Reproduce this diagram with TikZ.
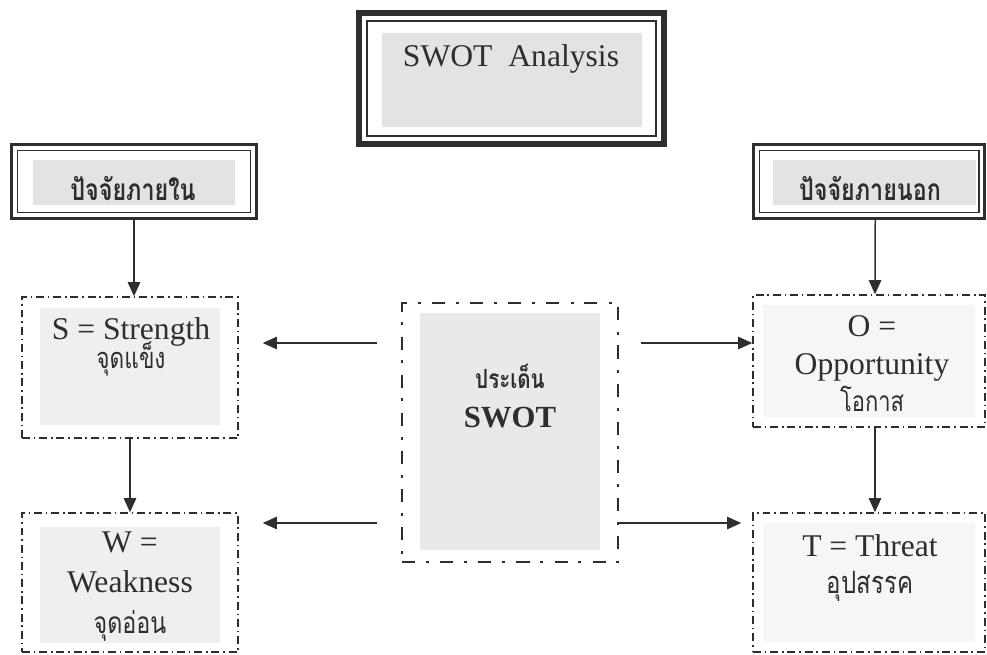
\documentclass[tikz,border=0pt]{standalone}
\usepackage{fontspec}
\setmainfont{Liberation Serif}
\newfontfamily\thaifont[Script=Thai,FakeStretch=0.78]{Loma}
\usetikzlibrary{arrows.meta}
\definecolor{ink}{HTML}{2E2E2E}
\definecolor{panelgray}{HTML}{E3E3E3}
\definecolor{centergray}{HTML}{E9E9E9}
\definecolor{softgray}{HTML}{EFEFEF}
\definecolor{palegray}{HTML}{F6F6F6}
\newcommand\thaitext[1]{\thaifont\fontsize{#1}{16}\selectfont}
\newcommand\tightlines{\lineskiplimit=-40pt\relax}

\begin{document}
\begin{tikzpicture}[x=0.02cm,y=-0.02cm,
  every node/.style={inner sep=0pt,text=ink},
  txt/.style={align=center,execute at begin node=\tightlines},
  arr/.style={draw=ink,line width=0.85pt,-{Triangle[length=8pt,width=7pt]}},
  dashdot/.style={draw=ink,line width=0.85pt,dash pattern=on 4.5pt off 2.2pt on 0.9pt off 2.2pt},
  bigdashdot/.style={draw=ink,line width=1.5pt,dash pattern=on 7.5pt off 6pt on 1.7pt off 6.5pt},
  panel/.style n args={5}{path picture={
    \fill[#1] ([xshift=#2,yshift=-#4]path picture bounding box.north west) rectangle ([xshift=-#3,yshift=#5]path picture bounding box.south east);}},
  framed/.style n args={6}{path picture={
    \fill[#1] ([xshift=#2,yshift=-#4]path picture bounding box.north west) rectangle ([xshift=-#3,yshift=#5]path picture bounding box.south east);
    \draw[ink,line width=1pt] ([xshift=#6,yshift=-#6]path picture bounding box.north west) rectangle ([xshift=-#6,yshift=#6]path picture bounding box.south east);}}]
\useasboundingbox (0,0) rectangle (987,654);

% title
\node[draw=ink,line width=3.4pt,minimum width=6.1cm,minimum height=2.62cm,
  framed={panelgray}{0.46cm}{0.44cm}{0.40cm}{0.34cm}{0.16cm}] (title) at (511.5,78.5) {};
\node[txt,font=\fontsize{18}{22}\selectfont] (titletxt) at (511,59) {SWOT\enspace Analysis};

% internal / external factors
\node[draw=ink,line width=1.7pt,minimum width=4.9cm,minimum height=1.48cm,
  framed={panelgray}{0.43cm}{0.43cm}{0.31cm}{0.27cm}{0.12cm}] (inl) at (134,181.5) {};
\node[txt,font=\bfseries\thaitext{17}] (inltxt) at (133,189) {ปัจจัยภายใน};
\node[draw=ink,line width=1.7pt,minimum width=4.63cm,minimum height=1.48cm,
  framed={panelgray}{0.39cm}{0.18cm}{0.31cm}{0.27cm}{0.12cm}] (exl) at (869.25,181.5) {};
\node[txt,font=\bfseries\thaitext{17}] (exltxt) at (870,189) {ปัจจัยภายนอก};

% the four boxes
\node[dashdot,minimum width=4.32cm,minimum height=2.82cm,panel={softgray}{0.36cm}{0.36cm}{0.22cm}{0.26cm}] (s) at (130,367.5) {};
\node[txt,font=\fontsize{18}{16.4}\selectfont] (stxt) at (131,346.5) {S = Strength\\{\thaitext{16.5}จุดแข็ง}};
\node[dashdot,minimum width=4.32cm,minimum height=2.78cm,panel={softgray}{0.36cm}{0.36cm}{0.28cm}{0.18cm}] (w) at (130,582.5) {};
\node[txt,font=\fontsize{18}{23}\selectfont] (wtxt) at (130,586.5) {W =\\Weakness\\{\thaitext{17}จุดอ่อน}};
\node[dashdot,minimum width=4.64cm,minimum height=2.64cm,panel={palegray}{0.2cm}{0.2cm}{0.2cm}{0.2cm}] (o) at (869,361) {};
\node[txt,font=\fontsize{18}{21.3}\selectfont] (otxt) at (872,364) {O =\\Opportunity\\{\thaitext{16}โอกาส}};
\node[dashdot,minimum width=4.64cm,minimum height=2.78cm,panel={palegray}{0.2cm}{0.2cm}{0.2cm}{0.2cm}] (t) at (869,582.5) {};
\node[txt,font=\fontsize{18}{21.5}\selectfont] (ttxt) at (870,568) {T = Threat\\{\thaitext{17.5}อุปสรรค}};

% centre
\node[bigdashdot,minimum width=4.32cm,minimum height=5.18cm,panel={centergray}{0.36cm}{0.36cm}{0.2cm}{0.24cm}] (cen) at (510,432.5) {};
\node[txt,font=\bfseries\fontsize{17.5}{22.7}\selectfont] (centxt) at (510,396) {{\thaitext{15}ประเด็น}\\SWOT};

\coordinate (sa) at (510,343);
\coordinate (wa) at (510,523);

\draw[arr] (inl.south) -- (inl.south |- s.north);
\draw[arr] (s.south) -- (w.north);
\draw[arr] ([xshift=0.12cm]exl.south) -- ([xshift=0.12cm]o.north);
\draw[arr] ([xshift=0.12cm]o.south) -- ([xshift=0.12cm]t.north);
\draw[arr,shorten <=0.48cm,shorten >=0.48cm] (cen.west |- sa) -- (s.east |- sa);
\draw[arr,shorten <=0.48cm,shorten >=0.48cm] (cen.west |- wa) -- (w.east |- wa);
\draw[arr,shorten <=0.44cm] (cen.east |- sa) -- (o.west |- sa);
\draw[arr,shorten >=0.22cm] (cen.east |- wa) -- (t.west |- wa);
%\draw[help lines] (0,0) grid[step=50] (987,654);
\end{tikzpicture}
\end{document}
